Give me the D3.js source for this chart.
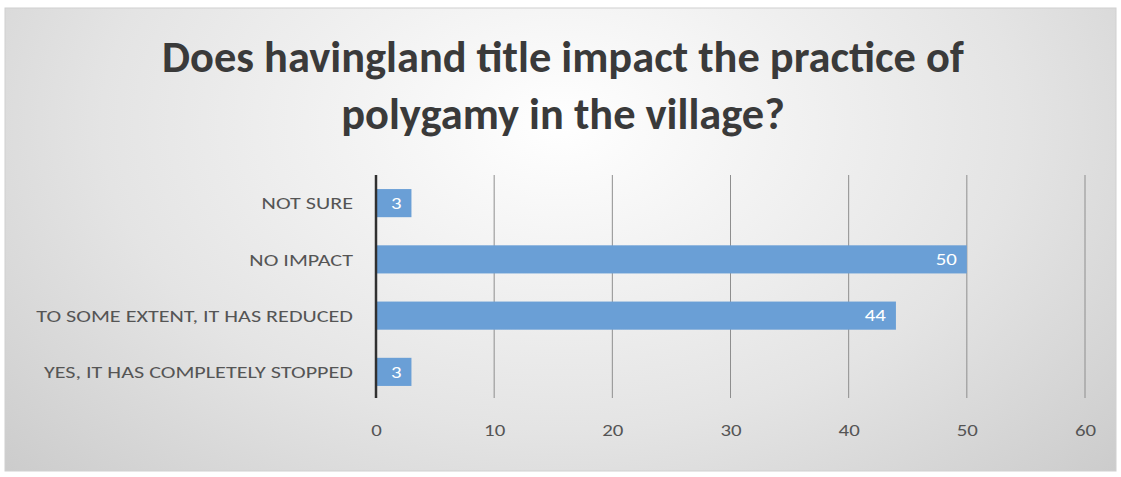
<!DOCTYPE html>
<html>
<head>
<meta charset="utf-8">
<script src="https://cdn.jsdelivr.net/npm/d3@7"></script>
<style>
  html, body { margin: 0; padding: 0; background: #ffffff; }
  svg { display: block; }
</style>
</head>
<body>
<svg id="chart" width="1121" height="477"></svg>
<script>
// Survey responses, listed top to bottom
const categories = [
  "NOT SURE",
  "NO IMPACT",
  "TO SOME EXTENT, IT HAS REDUCED",
  "YES, IT HAS COMPLETELY STOPPED"
];
const counts = [3, 50, 44, 3];
const tickValues = [0, 10, 20, 30, 40, 50, 60];
const titleLines = [
  "Does havingland title impact the practice of",
  "polygamy in the village?"
];

const W = 1121, H = 477;
const svg = d3.select("#chart");
const font = "Carlito, Lato, 'Open Sans', sans-serif";

// Chart area background with soft radial shading
const defs = svg.append("defs");
const grad = defs.append("radialGradient")
  .attr("id", "bg").attr("cx", "50%").attr("cy", "25%").attr("r", "75%")
  .attr("gradientTransform", "translate(0.5,0.25) scale(1,1.6) translate(-0.5,-0.25)");
grad.append("stop").attr("offset", "0%").attr("stop-color", "#ffffff");
grad.append("stop").attr("offset", "55%").attr("stop-color", "#e4e4e4");
grad.append("stop").attr("offset", "100%").attr("stop-color", "#c6c6c6");

svg.append("rect")
  .attr("x", 5).attr("y", 8).attr("width", 1111).attr("height", 463)
  .attr("fill", "url(#bg)").attr("stroke", "#d0d0d0").attr("stroke-width", 1);

// Plot area
const plot = { left: 376, right: 1085, top: 175, bottom: 398 };

const x = d3.scaleLinear().domain([0, 60]).range([plot.left, plot.right]);
const y = d3.scaleBand().domain(categories).range([plot.top, plot.bottom + 2]).paddingInner(0.5).paddingOuter(0.25);

// Vertical gridlines
svg.append("g")
  .selectAll("line")
  .data(tickValues.filter(v => v > 0))
  .join("line")
  .attr("x1", d => x(d)).attr("x2", d => x(d))
  .attr("y1", plot.top).attr("y2", plot.bottom)
  .attr("stroke", "#8e8e8e").attr("stroke-width", 1);

// Bars
svg.append("g")
  .selectAll("rect")
  .data(categories)
  .join("rect")
  .attr("x", x(0))
  .attr("y", d => y(d))
  .attr("width", (d, i) => x(counts[i]) - x(0))
  .attr("height", y.bandwidth())
  .attr("fill", "#6a9fd6");

// Category axis line
svg.append("line")
  .attr("x1", x(0)).attr("x2", x(0))
  .attr("y1", plot.top).attr("y2", plot.bottom)
  .attr("stroke", "#303030").attr("stroke-width", 2.5);

// Category labels, set in a slightly wide face
const catLabels = svg.append("g")
  .selectAll("text")
  .data(categories)
  .join("text")
  .attr("text-anchor", "end")
  .attr("dy", "0.36em")
  .attr("fill", "#555555")
  .attr("font-family", font)
  .attr("font-size", 17)
  .text(d => d);

// Horizontal stretch so the longest label spans 317px
const longest = d3.max(catLabels.nodes(), n => n.getComputedTextLength());
const stretch = 317 / longest;
catLabels.attr("transform", d => `translate(353,${y(d) + y.bandwidth() / 2}) scale(${stretch},1)`);

// Value labels inside bar ends
svg.append("g")
  .selectAll("text")
  .data(categories)
  .join("text")
  .attr("transform", (d, i) => `translate(${x(counts[i]) - 10},${y(d) + y.bandwidth() / 2}) scale(${stretch},1)`)
  .attr("dy", "0.36em")
  .attr("text-anchor", "end")
  .attr("fill", "#ffffff")
  .attr("font-family", font)
  .attr("font-size", 16)
  .text((d, i) => counts[i]);

// Value axis tick labels
const xAxis = d3.axisBottom(x).tickValues(tickValues).tickSize(0).tickPadding(0);
const gx = svg.append("g").attr("transform", `translate(0,${plot.bottom})`).call(xAxis);
gx.select(".domain").remove();
gx.selectAll(".tick text")
  .attr("y", 0)
  .attr("dy", "0")
  .attr("transform", `translate(0,38) scale(${stretch},1)`)
  .attr("fill", "#555555")
  .attr("font-family", font)
  .attr("font-size", 16);

// Title
const title = svg.append("g")
  .selectAll("text")
  .data(titleLines)
  .join("text")
  .attr("x", 563)
  .attr("y", (d, i) => 72 + i * 57)
  .attr("text-anchor", "middle")
  .attr("fill", "#3a3a3a")
  .attr("font-family", font)
  .attr("font-weight", "bold")
  .attr("font-size", 40)
  .text(d => d);

// Scale title size so the first line spans 802px
const firstLen = title.node().getComputedTextLength();
title.attr("font-size", 40 * 802 / firstLen);
</script>
</body>
</html>
